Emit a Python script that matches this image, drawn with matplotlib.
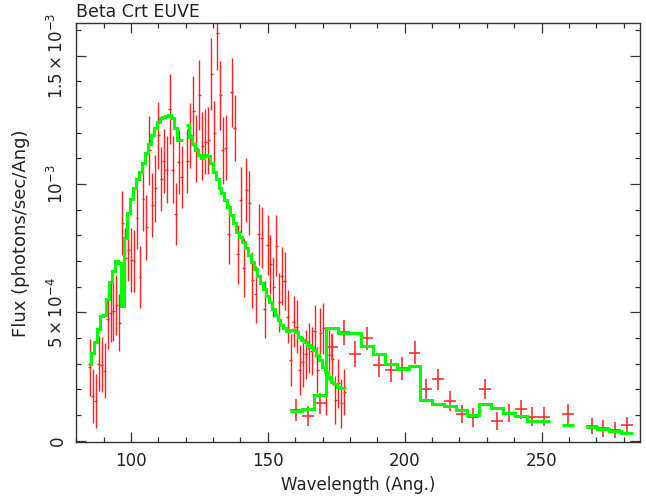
import matplotlib
matplotlib.use("Agg")
import matplotlib.pyplot as plt
import numpy as np

# SW spectrometer: bin centres (Ang), flux and error in units of 1e-4
sw1_wave = [85.0, 86.1, 87.2, 88.3, 89.3, 90.4, 91.5, 92.6, 93.6, 94.7, 95.8,
            96.9, 97.9, 99.0, 100.1, 101.1, 102.2, 103.3, 104.4, 105.5, 106.6,
            107.7, 108.8, 109.9, 111.0, 112.0, 113.1, 114.2, 115.3, 116.4,
            117.5, 118.5]
sw1_flux = [2.86, 1.74, 1.55, 3.0, 2.97, 2.73, 4.74, 4.99, 5.07, 5.28, 4.6,
            8.48, 7.1, 7.43, 7.05, 7.0, 8.66, 6.39, 9.43, 8.31, 11.31,
            9.18, 9.84, 11.9, 10.2, 10.9, 10.56, 12.92, 10.56, 8.83,
            10.87, 10.27]
sw1_err = [1.1, 1.05, 1.05, 1.07, 1.07, 1.07, 1.17, 1.14, 1.17, 1.17, 1.1,
           1.25, 1.2, 1.2, 1.25, 1.2, 1.2, 1.2, 1.25, 1.25, 1.33,
           1.25, 1.3, 1.3, 1.25, 1.25, 1.3, 1.36, 1.3, 1.2,
           1.25, 1.2]
sw1_model = [3.01, 3.43, 3.86, 4.34, 4.87, 4.9, 5.52, 6.17, 6.61, 7.01, 6.91,
             5.26, 7.88, 8.86, 9.42, 9.83, 10.18, 10.48, 10.83, 11.19, 11.56,
             11.9, 12.2, 12.43, 12.58, 12.62, 12.66, 12.7, 12.59, 12.17,
             11.71, 11.7]

sw2_wave = [120.6, 121.6, 122.7, 123.8, 124.9, 126.0, 127.1, 128.2, 129.3,
            130.4, 131.5, 132.6, 133.6, 134.7, 135.8, 136.9, 138.0, 139.0,
            140.1, 141.2, 142.2, 143.3, 144.4, 145.5, 146.6, 147.7, 148.8,
            149.9, 150.9, 152.0, 153.0, 154.1, 155.1, 156.2, 157.3, 158.4,
            159.5, 160.6, 161.7, 162.8, 163.8, 164.9, 166.0, 167.1, 168.1,
            169.1, 170.2, 171.3, 172.4, 173.5, 174.6, 175.7, 176.8, 177.9]
sw2_flux = [10.9, 11.9, 12.86, 11.39, 13.47, 11.48, 11.65, 11.7, 14.29,
            11.97, 15.87, 13.45, 11.32, 11.41, 8.04, 13.57, 12.18, 7.26,
            9.38, 6.74, 9.77, 9.26, 6.26, 5.70, 8.04, 7.91, 5.12,
            7.62, 6.87, 5.99, 7.60, 5.39, 6.42, 6.22, 4.83, 3.14,
            4.64, 4.44, 2.75, 3.08, 3.37, 3.60, 3.50, 4.27, 2.75,
            4.18, 4.38, 1.91, 3.34, 3.18, 1.59, 2.24, 1.46, 1.91]
sw2_err = [1.25, 1.27, 1.36, 1.3, 1.37, 1.33, 1.27, 1.3, 1.4,
           1.25, 1.43, 1.36, 1.3, 1.27, 1.17, 1.34, 1.3, 1.15,
           1.27, 1.15, 1.23, 1.25, 1.1, 1.1, 1.2, 1.18, 1.12,
           1.18, 1.15, 1.15, 1.18, 1.14, 1.12, 1.14, 1.03, 1.0,
           1.0, 1.04, 0.97, 0.97, 0.95, 0.97, 0.95, 1.0, 0.9,
           1.0, 1.0, 0.9, 0.97, 0.97, 0.95, 0.95, 0.95, 0.9]
sw2_model = [12.3, 11.82, 11.57, 11.31, 11.15, 11.02, 11.15, 11.1, 10.8,
             10.48, 10.18, 9.86, 9.64, 9.38, 9.09, 8.79, 8.49, 8.14,
             7.95, 7.75, 7.5, 7.23, 6.95, 6.71, 6.4, 6.15, 5.9,
             5.65, 5.4, 5.15, 4.9, 4.7, 4.52, 4.38, 4.27, 4.31,
             4.31, 4.25, 4.05, 3.92, 3.83, 3.75, 3.66, 3.53, 3.34,
             3.14, 2.88, 2.69, 2.49, 2.3, 2.21, 2.1, 2.04, 2.04]
sw_halfwidth = 0.54

# MW spectrometer
mw_wave = [160.4, 164.7, 169.0, 173.4, 177.7, 182.0, 186.3, 190.6, 194.9,
           199.2, 203.6, 207.9, 212.2, 216.5, 220.8, 225.1, 229.4, 233.8,
           238.1, 242.4, 246.7, 251.0, 259.6, 268.3, 272.6, 276.9, 281.2]
mw_flux = [1.2, 0.96, 1.46, 3.64, 4.22, 3.38, 3.99, 2.95, 2.75,
           2.82, 3.43, 2.0, 2.39, 1.56, 1.04, 0.91, 2.0, 0.78,
           1.09, 1.22, 0.94, 0.94, 1.03, 0.57, 0.48, 0.42, 0.61]
mw_err = [0.42, 0.39, 0.41, 0.5, 0.48, 0.49, 0.46, 0.45, 0.45,
          0.45, 0.44, 0.4, 0.4, 0.39, 0.36, 0.37, 0.39, 0.36,
          0.36, 0.37, 0.38, 0.36, 0.39, 0.32, 0.32, 0.32, 0.32]
mw_model = [1.16, 1.23, 1.78, 4.38, 4.19, 4.19, 3.7, 3.38, 3.0,
            2.8, 2.9, 1.6, 1.45, 1.35, 1.2, 1.0, 1.45, 1.26,
            1.07, 0.98, 0.77, 0.77, 0.6, 0.52, 0.45, 0.38, 0.32]
mw_halfwidth = 2.16

ytick_vals = [0, 5e-4, 1e-3, 1.5e-3]
ytick_text = ['0', r'$5\times10^{-4}$', r'$10^{-3}$', r'$1.5\times10^{-3}$']
scale = 1e-4


def draw_steps(ax, centres, values, hw):
    # split into contiguous runs and draw each as a stair line
    c = np.asarray(centres)
    v = np.asarray(values) * scale
    breaks = np.where(np.diff(c) > 3 * hw)[0] + 1
    for cs, vs in zip(np.split(c, breaks), np.split(v, breaks)):
        edges = np.append(cs - hw, cs[-1] + hw)
        ax.stairs(vs, edges, baseline=None, color='#00ff00', lw=2.2, zorder=3)


fig = plt.figure(figsize=(6.46, 4.97), dpi=100)
ax = fig.add_axes([0.118, 0.110, 0.8728, 0.8431])

for w, f, e in [(sw1_wave, sw1_flux, sw1_err), (sw2_wave, sw2_flux, sw2_err)]:
    ax.errorbar(w, np.array(f) * scale, xerr=sw_halfwidth, yerr=np.array(e) * scale,
                fmt='none', ecolor='#ff2020', elinewidth=1.0, zorder=2)
ax.errorbar(mw_wave, np.array(mw_flux) * scale, xerr=mw_halfwidth,
            yerr=np.array(mw_err) * scale, fmt='none', ecolor='#ff3030',
            elinewidth=1.2, zorder=2)

draw_steps(ax, sw1_wave, sw1_model, sw_halfwidth)
draw_steps(ax, sw2_wave, sw2_model, sw_halfwidth)
draw_steps(ax, mw_wave, mw_model, mw_halfwidth)

ax.set_xlim(80, 286)
ax.set_ylim(-0.06e-4, 16.26e-4)

ax.set_xticks([100, 150, 200, 250])
ax.set_xticks(np.arange(80, 290, 10), minor=True)
ax.set_yticks(ytick_vals)
ax.set_yticklabels(ytick_text, rotation=90, va='center')
ax.set_yticks(np.arange(0, 16.5e-4, 1e-4), minor=True)

for s in ax.spines.values():
    s.set_color('#333333')
    s.set_linewidth(1.0)
ax.tick_params(which='both', direction='in', top=True, right=True,
               color='#333333', width=0.9)
ax.tick_params(which='major', length=7, labelsize=12, labelcolor='#222222')
ax.tick_params(which='minor', length=3.8)
ax.tick_params(axis='x', which='major', pad=7)
ax.tick_params(axis='y', which='major', pad=7)

ax.set_xlabel('Wavelength (Ang.)', fontsize=12, color='#222222', labelpad=4)
ax.set_ylabel('Flux (photons/sec/Ang)', fontsize=13, color='#222222')
ax.yaxis.set_label_coords(-0.082, 0.5)
ax.set_title('Beta Crt EUVE', loc='left', fontsize=12.5, color='#222222', pad=4.5)

fig.savefig('out.png', dpi=100)
